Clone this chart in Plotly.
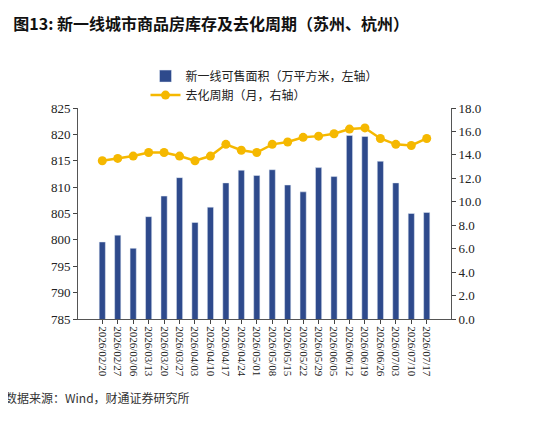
import plotly.graph_objects as go

# data
dates = ["2026/02/20", "2026/02/27", "2026/03/06", "2026/03/13", "2026/03/20", "2026/03/27",
         "2026/04/03", "2026/04/10", "2026/04/17", "2026/04/24", "2026/05/01", "2026/05/08",
         "2026/05/15", "2026/05/22", "2026/05/29", "2026/06/05", "2026/06/12", "2026/06/19",
         "2026/06/26", "2026/07/03", "2026/07/10", "2026/07/17"]
area = [799.6, 800.9, 798.4, 804.4, 808.3, 811.8, 803.3, 806.2, 810.8, 813.2, 812.2, 813.3,
        810.4, 809.1, 813.7, 812.0, 819.8, 819.6, 814.9, 810.8, 805.0, 805.2]
cycle = [13.5, 13.7, 13.9, 14.2, 14.2, 13.9, 13.5, 13.9, 14.9, 14.4, 14.2, 14.9,
         15.1, 15.5, 15.6, 15.8, 16.2, 16.3, 15.4, 14.9, 14.8, 15.4]

FONT = "Noto Sans CJK SC"
SERIF = "Liberation Serif"

fig = go.Figure()
fig.add_trace(go.Bar(x=dates, y=area, name="新一线可售面积（万平方米，左轴）",
                     marker_color="#2E4A8C", width=0.4))
fig.add_trace(go.Scatter(x=dates, y=cycle, name="去化周期（月，右轴）", yaxis="y2",
                         mode="lines+markers", line=dict(color="#F5B800", width=2.5),
                         marker=dict(size=9, color="#F5B800")))

fig.update_layout(
    width=533, height=423, plot_bgcolor="white", paper_bgcolor="white",
    font=dict(family=FONT, size=12, color="#222"),
    margin=dict(l=70, r=90, t=100, b=112),
    title=dict(text="<b>图13: 新一线城市商品房库存及去化周期（苏州、杭州）</b>",
               x=0.01, y=0.975, xanchor="left", font=dict(size=16, color="#111")),
    legend=dict(x=0.5, y=1.22, xanchor="center", yanchor="top", font=dict(size=12),
                bgcolor="rgba(0,0,0,0)"),
    xaxis=dict(tickangle=90, tickfont=dict(size=11, family=SERIF), showline=True,
               linecolor="#555", ticks="outside", ticklen=4),
    yaxis=dict(range=[785, 825], dtick=5, showgrid=False, showline=True, linecolor="#555",
               ticks="outside", ticklen=4, tickfont=dict(size=13, family=SERIF)),
    yaxis2=dict(range=[0, 18], tickvals=[i * 2 for i in range(10)],
                ticktext=[f"{i * 2:.1f}" for i in range(10)], overlaying="y", side="right",
                showgrid=False, showline=True, linecolor="#555", ticks="outside",
                ticklen=4, tickfont=dict(size=13, family=SERIF)),
)
fig.add_annotation(text="数据来源：Wind，财通证券研究所", xref="paper", yref="paper",
                   x=-0.2, y=-0.42, xanchor="left", showarrow=False,
                   font=dict(size=12, color="#333"))

fig.write_html("out.html")
